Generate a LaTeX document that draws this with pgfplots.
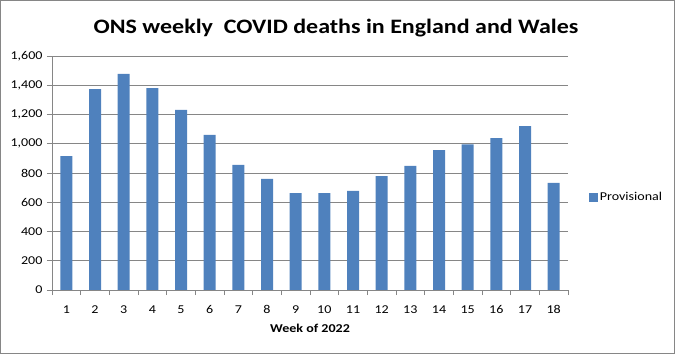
\documentclass[border=0pt]{standalone}
\usepackage{fontspec}
\setmainfont{Carlito}[FakeStretch=1.17]
\usepackage{pgfplots}
\pgfplotsset{compat=1.18}
\definecolor{barblue}{HTML}{4F81BD}
\definecolor{gridgray}{HTML}{868686}
\begin{document}
\begin{tikzpicture}
\useasboundingbox (0,0) rectangle (675bp,354bp);
\draw[gridgray, line width=1bp] (0.5bp,0.5bp) rectangle (674.5bp,353.5bp);
\node[font=\fontsize{20.5bp}{24bp}\selectfont\bfseries] at (336bp,326bp) {ONS weekly \ COVID deaths in England and Wales};
\begin{axis}[
  at={(52bp,64bp)}, anchor=south west,
  scale only axis, width=516bp, height=234bp,
  xmin=0.5, xmax=18.5, ymin=0, ymax=1600,
  axis x line*=bottom, axis y line*=left,
  axis line style={gridgray, line width=0.8bp, -},
  xtick={1,...,18},
  minor xtick={0.5,1.5,...,18.5},
  ytick={0,200,...,1600},
  ymajorgrids, major grid style={gridgray, line width=0.8bp},
  major x tick style={draw=none},
  minor x tick style={gridgray, line width=0.8bp},
  major y tick style={gridgray, line width=0.8bp},
  tick align=outside,
  major tick length=5bp, minor tick length=5bp,
  /pgf/number format/assume math mode=true,
  /pgf/number format/1000 sep={,},
  tick label style={font=\fontsize{12bp}{14bp}\selectfont, text=black},
  xticklabel style={yshift=-7bp},
  yticklabel style={xshift=-1bp},
  xlabel={\bfseries Week of 2022},
  xlabel style={font=\fontsize{12bp}{14bp}\selectfont, yshift=-3bp},
  legend style={at={(1.04,0.397)}, anchor=west, draw=none, fill=none,
    font=\fontsize{12bp}{14bp}\selectfont, inner sep=0pt},
  legend image code/.code={\fill[barblue] (0bp,-4.5bp) rectangle (9bp,4.5bp);},
]
\addplot[ybar, bar width=12bp, fill=barblue, draw=none] coordinates {
(1,916) (2,1374) (3,1477) (4,1381) (5,1231) (6,1060) (7,855) (8,759) (9,663)
(10,663) (11,677) (12,779) (13,848) (14,957) (15,996) (16,1039) (17,1121) (18,732)
};
\addlegendentry{Provisional}
\end{axis}
\end{tikzpicture}
\end{document}
